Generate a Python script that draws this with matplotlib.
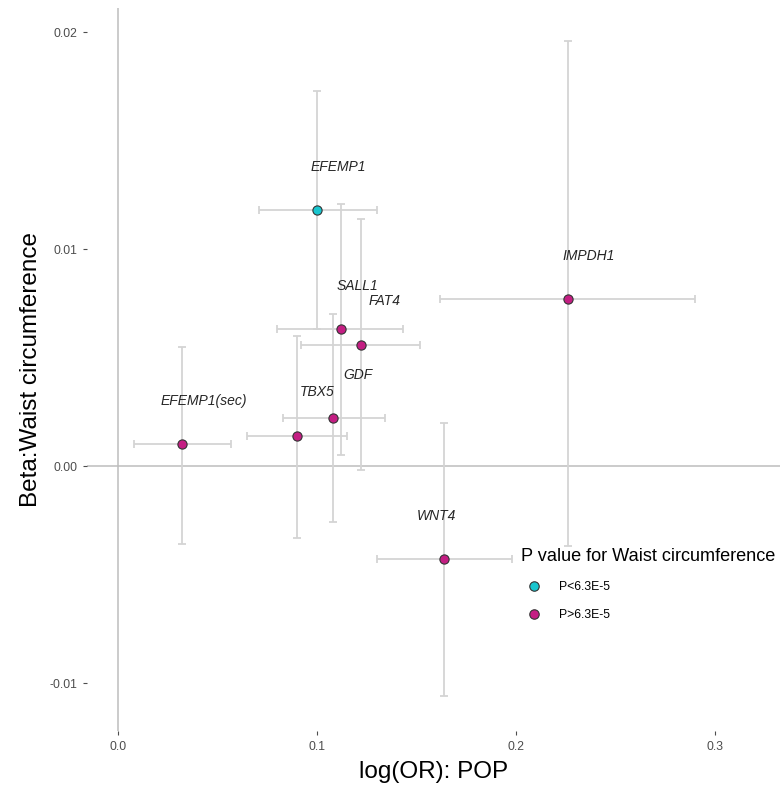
"""Scatter of POP log(OR) vs waist-circumference beta, with CI error bars."""

import matplotlib

matplotlib.use("Agg")
import matplotlib.pyplot as plt
from matplotlib.lines import Line2D

plt.rcParams["font.family"] = ["Liberation Sans", "DejaVu Sans"]

GENES = ["EFEMP1", "SALL1", "FAT4", "GDF", "TBX5", "EFEMP1(sec)", "IMPDH1", "WNT4"]
LOG_OR = [0.100, 0.112, 0.122, 0.108, 0.090, 0.032, 0.226, 0.164]
LOG_OR_LO = [0.071, 0.080, 0.092, 0.083, 0.065, 0.008, 0.162, 0.130]
LOG_OR_HI = [0.130, 0.143, 0.152, 0.134, 0.115, 0.057, 0.290, 0.198]
BETA = [0.0118, 0.0063, 0.0056, 0.0022, 0.0014, 0.0010, 0.0077, -0.0043]
BETA_LO = [0.0063, 0.0005, -0.0002, -0.0026, -0.0033, -0.0036, -0.0037, -0.0106]
BETA_HI = [0.0173, 0.0121, 0.0114, 0.0070, 0.0060, 0.0055, 0.0196, 0.0020]
P_GROUP = ["P<6.3E-5", "P>6.3E-5", "P>6.3E-5", "P>6.3E-5", "P>6.3E-5", "P>6.3E-5", "P>6.3E-5", "P>6.3E-5"]
GROUPS = ["P<6.3E-5", "P>6.3E-5"]

# label nudges (data units), mostly shared
LABEL_DX = [0.0106, 0.0085, 0.012, 0.0126, 0.010, 0.011, 0.0106, -0.004]
LABEL_DY = 0.002

COLORS = {"P<6.3E-5": "#19C6CF", "P>6.3E-5": "#C41E83"}
ERR_COLOR = "#D4D4D4"
ZERO_COLOR = "#BDBDBD"
TICK_COLOR = "#4D4D4D"

fig = plt.figure(figsize=(7.8, 7.86), dpi=100)
ax = fig.add_axes([0.1115, 0.070, 0.8885, 0.9198])

ax.axhline(0, color=ZERO_COLOR, lw=1.1, zorder=1)
ax.axvline(0, color=ZERO_COLOR, lw=1.1, zorder=1)

for i, gene in enumerate(GENES):
    ax.errorbar(
        LOG_OR[i],
        BETA[i],
        xerr=[[LOG_OR[i] - LOG_OR_LO[i]], [LOG_OR_HI[i] - LOG_OR[i]]],
        yerr=[[BETA[i] - BETA_LO[i]], [BETA_HI[i] - BETA[i]]],
        fmt="none",
        ecolor=ERR_COLOR,
        elinewidth=1.3,
        capsize=3,
        capthick=1.3,
        zorder=2,
    )

for i, gene in enumerate(GENES):
    ax.scatter(LOG_OR[i], BETA[i], s=44, color=COLORS[P_GROUP[i]], edgecolor="#333333", linewidth=0.8, zorder=3)
    ax.text(
        LOG_OR[i] + LABEL_DX[i],
        BETA[i] + LABEL_DY,
        gene,
        fontsize=10,
        style="italic",
        color="#262626",
        ha="center",
        va="center",
        zorder=4,
    )

ax.set_xlim(-0.0156, 0.3327)
ax.set_ylim(-0.01221, 0.02111)
ax.set_xticks([0.0, 0.1, 0.2, 0.3])
ax.set_xticklabels(["0.0", "0.1", "0.2", "0.3"])
ax.set_yticks([-0.01, 0.0, 0.01, 0.02])
ax.set_yticklabels(["-0.01", "0.00", "0.01", "0.02"])
ax.tick_params(axis="both", colors=TICK_COLOR, labelsize=8.8, length=3, width=0.8, pad=4)
for spine in ax.spines.values():
    spine.set_visible(False)

ax.set_xlabel("log(OR): POP", fontsize=17.5, labelpad=6)
ax.set_ylabel("Beta:Waist circumference", fontsize=17.5, labelpad=5)

handles = [
    Line2D([], [], marker="o", linestyle="none", markersize=6.8, markerfacecolor=COLORS[g],
           markeredgecolor="#333333", markeredgewidth=0.8)
    for g in GROUPS
]
leg = ax.legend(
    handles,
    GROUPS,
    title="P value for Waist circumference",
    loc="upper left",
    bbox_to_anchor=(0.611, 0.268),
    frameon=False,
    fontsize=8.8,
    title_fontsize=13.1,
    handletextpad=1.1,
    labelspacing=1.3,
    alignment="left",
)

fig.savefig("out.png", dpi=100, facecolor="white")
